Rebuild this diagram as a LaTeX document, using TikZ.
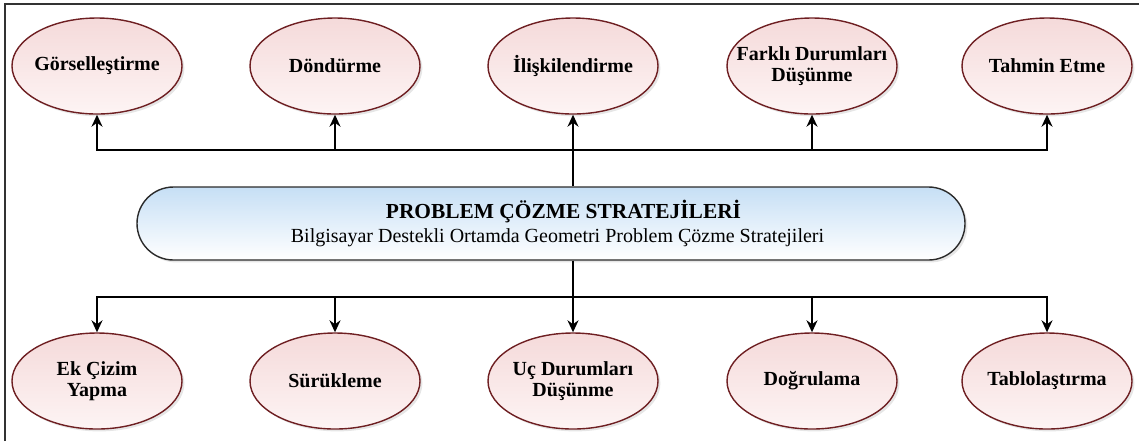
\documentclass[tikz,border=0pt]{standalone}
\usepackage{fontspec}
\setmainfont{Liberation Serif}
\usetikzlibrary{shapes.geometric,shapes.misc,arrows.meta,shadows}
\definecolor{ellborder}{HTML}{6E1F22}
\definecolor{ellpink}{HTML}{F5DADA}
\definecolor{ellwhite}{HTML}{FDF4F4}
\definecolor{boxblue}{HTML}{C6DFF5}
\definecolor{boxborder}{HTML}{2B2B2B}
\tikzset{
  strat/.style={ellipse, draw=ellborder, line width=0.7pt, top color=ellpink, bottom color=ellwhite,
    minimum width=85pt, minimum height=48pt, inner xsep=-20pt, inner ysep=0pt, align=center,
    font=\bfseries\fontsize{10}{10.5}\selectfont,
    drop shadow={opacity=0.2, shadow xshift=1.2pt, shadow yshift=-1.2pt}},
  mainbox/.style={rounded rectangle, draw=boxborder, line width=0.7pt, top color=boxblue, bottom color=white,
    minimum width=414pt, minimum height=36.5pt, inner sep=0pt, align=center,
    drop shadow={opacity=0.2, shadow xshift=1.2pt, shadow yshift=-1.2pt}},
  arr/.style={-{Stealth[length=6pt,width=5.5pt]}, line width=0.9pt, black},
  frame/.style={line width=1pt, draw=black!80}
}
\begin{document}
\begin{tikzpicture}[x=0.5pt, y=-0.5pt]
\useasboundingbox (0,0) rectangle (1139,441);
\draw[frame] (5,441) -- (5,4) -- (1139,4);

% top row
\node[strat] (gor) at (97,66) {Görselleştirme};
\node[strat] (don) at (335,66) {Döndürme};
\node[strat] (ili) at (573,66) {İlişkilendirme};
\node[strat] (far) at (812,66) {Farklı Durumları\\Düşünme};
\node[strat] (tah) at (1047,66) {Tahmin Etme};

% center box
\node[mainbox] (main) at (551,223.5) {\hspace*{12.5pt}{\bfseries\fontsize{10.7}{11.5}\selectfont PROBLEM ÇÖZME STRATEJİLERİ}\\\hspace*{6.5pt}{\fontsize{10}{11.5}\selectfont Bilgisayar Destekli Ortamda Geometri Problem Çözme Stratejileri}};

% bottom row
\node[strat] (ek) at (97,381) {Ek Çizim\\Yapma};
\node[strat] (sur) at (335,381) {Sürükleme};
\node[strat] (uc) at (573,381) {Uç Durumları\\Düşünme};
\node[strat] (dog) at (812,381) {Doğrulama};
\node[strat] (tab) at (1047,381) {Tablolaştırma};

\coordinate (jt) at (573,150);
\coordinate (jb) at (573,297);

% top connectors
\draw[arr] (main.north -| ili) -- (ili.south);
\draw[arr] (jt) -| (gor.south);
\draw[arr] (jt) -| (don.south);
\draw[arr] (jt) -| (far.south);
\draw[arr] (jt) -| (tah.south);

% bottom connectors
\draw[arr] (main.south -| uc) -- (uc.north);
\draw[arr] (jb) -| (ek.north);
\draw[arr] (jb) -| (sur.north);
\draw[arr] (jb) -| (dog.north);
\draw[arr] (jb) -| (tab.north);
\end{tikzpicture}
\end{document}
